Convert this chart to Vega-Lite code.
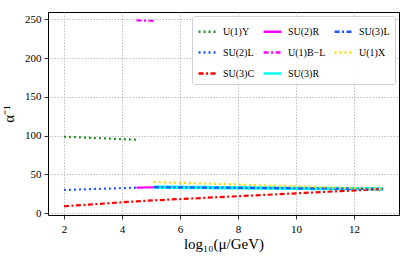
{
  "$schema": "https://vega.github.io/schema/vega-lite/v6.json",
  "width": 351,
  "height": 203,
  "autosize": "none",
  "padding": {"left": 48, "top": 12, "right": 12, "bottom": 44},
  "background": "white",
  "config": {
    "font": "Liberation Serif",
    "view": {"stroke": "black", "strokeWidth": 1},
    "axis": {
      "domain": false,
      "grid": true,
      "gridColor": "#b0b0b0",
      "gridDash": [1.5, 1.5],
      "gridWidth": 0.8,
      "tickColor": "black",
      "tickSize": 4,
      "tickWidth": 0.8,
      "labelColor": "black",
      "labelFont": "Liberation Serif",
      "labelFontSize": 11,
      "titleColor": "black",
      "titleFont": "Liberation Serif",
      "titleFontWeight": "normal",
      "titleFontSize": 15
    }
  },
  "data": {
    "values": [
      {"g": "U(1)Y", "x": 2, "y": 98.6},
      {"g": "U(1)Y", "x": 4.5, "y": 94.8},
      {"g": "SU(2)L", "x": 2, "y": 30.0},
      {"g": "SU(2)L", "x": 4.5, "y": 32.9},
      {"g": "SU(3)C", "x": 2, "y": 9.0},
      {"g": "SU(3)C", "x": 4.5, "y": 15.3},
      {"g": "SU(3)C", "x": 5.1, "y": 16.6},
      {"g": "SU(3)C", "x": 13, "y": 31.2},
      {"g": "SU(2)R", "x": 4.5, "y": 32.9},
      {"g": "SU(2)R", "x": 5.1, "y": 33.5},
      {"g": "U(1)B−L", "x": 4.5, "y": 248.6},
      {"g": "U(1)B−L", "x": 5.1, "y": 248.0},
      {"g": "SU(3)R", "x": 5.1, "y": 33.6},
      {"g": "SU(3)R", "x": 13, "y": 31.3},
      {"g": "SU(3)L", "x": 5.1, "y": 33.6},
      {"g": "SU(3)L", "x": 13, "y": 31.3},
      {"g": "U(1)X", "x": 5.1, "y": 40.2},
      {"g": "U(1)X", "x": 13, "y": 31.3}
    ]
  },
  "encoding": {
    "x": {
      "field": "x", "type": "quantitative",
      "scale": {"domain": [1.45, 13.55], "nice": false, "zero": false},
      "axis": {"values": [2, 4, 6, 8, 10, 12], "title": "log₁₀(μ/GeV)", "labelPadding": 4, "titlePadding": 2}
    },
    "y": {
      "field": "y", "type": "quantitative",
      "scale": {"domain": [-2.3, 259.5], "nice": false, "zero": false},
      "axis": {"values": [0, 50, 100, 150, 200, 250], "title": "α⁻¹", "labelPadding": 3, "titlePadding": 8}
    },
    "color": {
      "field": "g", "type": "nominal",
      "scale": {
        "domain": ["U(1)Y", "SU(2)R", "SU(3)L", "SU(2)L", "U(1)B−L", "U(1)X", "SU(3)C", "SU(3)R"],
        "range": ["#1f8f1f", "#ff00ff", "#1a55ff", "#1a55ff", "#ff00ff", "#ffd700", "#ff0000", "#00ffff"]
      },
      "legend": {
        "title": null,
        "orient": "top-right",
        "offset": 4,
        "columns": 3,
        "direction": "horizontal",
        "gridAlign": "each",
        "columnPadding": 3,
        "rowPadding": 5,
        "symbolType": "stroke",
        "symbolSize": 320,
        "symbolStrokeWidth": 2.5,
        "labelFont": "Liberation Serif",
        "labelFontSize": 10,
        "labelColor": "black",
        "labelOffset": 5,
        "padding": 5,
        "fillColor": "rgba(255,255,255,0.85)",
        "strokeColor": "#d0d0d0",
        "cornerRadius": 2
      }
    },
    "strokeDash": {
      "field": "g", "type": "nominal",
      "scale": {
        "domain": ["U(1)Y", "SU(2)R", "SU(3)L", "SU(2)L", "U(1)B−L", "U(1)X", "SU(3)C", "SU(3)R"],
        "range": [[2, 3], [1, 0], [5, 2.5, 2, 2.5], [2, 3], [5, 2.5, 2, 2.5], [2, 3], [5, 2.5, 2, 2.5], [1, 0]]
      },
      "legend": null
    }
  },
  "layer": [
    {
      "transform": [{"filter": "datum.g === 'SU(3)R'"}],
      "mark": {"type": "line", "strokeWidth": 3.5, "strokeCap": "butt"}
    },
    {
      "transform": [{"filter": "datum.g !== 'SU(3)R'"}],
      "mark": {"type": "line", "strokeWidth": 2.2, "strokeCap": "butt"}
    }
  ]
}
